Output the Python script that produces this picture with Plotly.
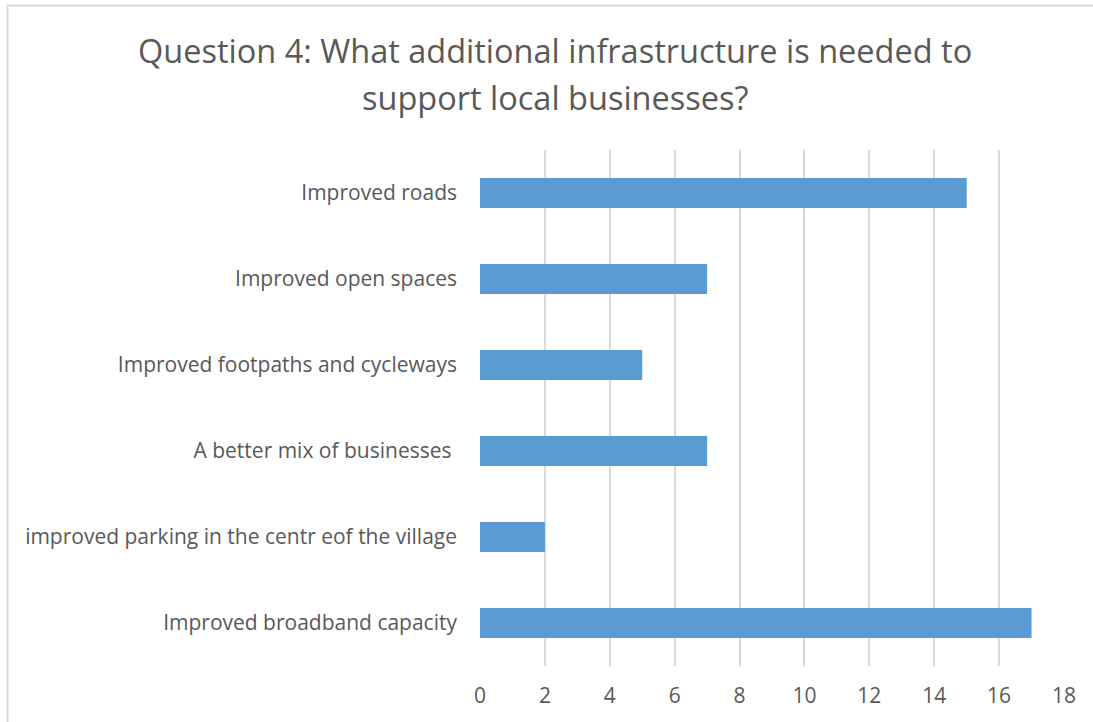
import plotly.graph_objects as go

# Survey responses, listed bottom-to-top as drawn on the category axis
categories = [
    "Improved broadband capacity",
    "improved parking in the centr eof the village",
    "A better mix of businesses ",
    "Improved footpaths and cycleways",
    "Improved open spaces",
    "Improved roads",
]
responses = [17, 2, 7, 5, 7, 15]
x_ticks = [0, 2, 4, 6, 8, 10, 12, 14, 16, 18]

title_lines = [
    "Question 4: What additional infrastructure is needed to",
    "support local businesses?",
]

W, H = 1093, 722
ML, MR, MT, MB = 480, 29, 150, 56
PW, PH = W - ML - MR, H - MT - MB

FONT = "Open Sans, DejaVu Sans, sans-serif"
TEXT = "#595959"
GRID = "#d9d9d9"
BAR = "#5b9bd5"

fig = go.Figure(
    go.Bar(
        x=responses,
        y=categories,
        orientation="h",
        marker=dict(color=BAR, line=dict(width=0)),
        hoverinfo="x+y",
    )
)


def px_x(p):
    return (p - ML) / PW


def px_y(p):
    return (H - MB - p) / PH


# outer chart frame (left and top edges visible)
fig.add_shape(
    type="path",
    xref="paper", yref="paper",
    path=f"M {px_x(7.5)} {px_y(740)} L {px_x(7.5)} {px_y(5.5)} L {px_x(1110)} {px_y(5.5)}",
    line=dict(color="#d9d9d9", width=2),
    layer="below",
)

# two-line chart title
for line, yc in zip(title_lines, [50, 97]):
    fig.add_annotation(
        text=line,
        xref="paper", yref="paper",
        x=px_x(555), y=px_y(yc),
        xanchor="center", yanchor="middle",
        showarrow=False,
        font=dict(family=FONT, size=32.5, color=TEXT),
    )

fig.update_layout(
    width=W, height=H,
    margin=dict(l=ML, r=MR, t=MT, b=MB, autoexpand=False),
    paper_bgcolor="white",
    plot_bgcolor="white",
    bargap=0.65,
    showlegend=False,
    xaxis=dict(
        range=[0, 18],
        tickvals=x_ticks,
        ticktext=[str(v) for v in x_ticks],
        showgrid=True, gridcolor=GRID, gridwidth=2,
        zeroline=False, showline=False,
        ticks="", ticklabelstandoff=15,
        tickfont=dict(family=FONT, size=21, color=TEXT),
        fixedrange=True,
    ),
    yaxis=dict(
        categoryorder="array", categoryarray=categories,
        showgrid=False, zeroline=False, showline=False,
        ticks="", ticklabelstandoff=22,
        tickfont=dict(family=FONT, size=21, color=TEXT),
        fixedrange=True,
    ),
)

fig.write_html("out.html")
